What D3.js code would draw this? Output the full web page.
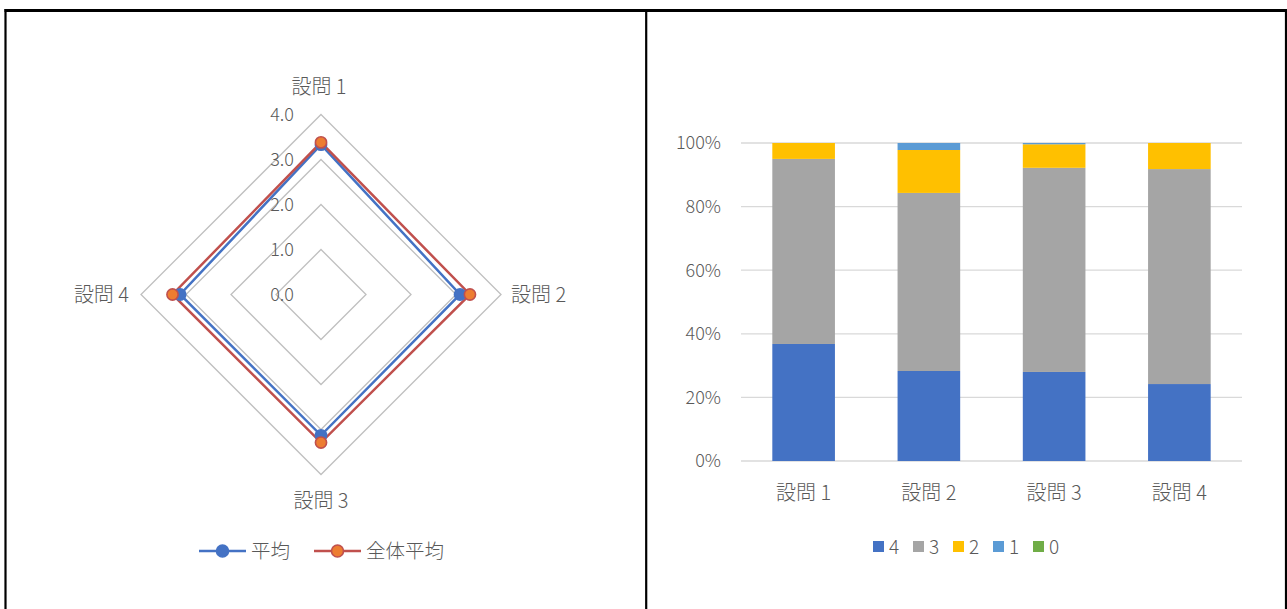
<!DOCTYPE html>
<html><head><meta charset="utf-8">
<script src="https://cdn.jsdelivr.net/npm/d3@7"></script>
<style>body{margin:0;background:#fff}svg text{font-family:"Noto Sans CJK JP","Noto Sans",sans-serif;fill:#595959;font-weight:300}</style>
</head><body><svg id="c" width="1287" height="609"></svg>
<script>
// ---- data ----
const radarCategories = ["設問 1","設問 2","設問 3","設問 4"];
const radarTicks = [0,1,2,3,4];
const seriesAvg = [3.33, 3.09, 3.13, 3.13];      // 平均
const seriesAll = [3.38, 3.31, 3.29, 3.30];      // 全体平均
const radarSeriesNames = ["平均","全体平均"];

const barCategories = ["設問 1","設問 2","設問 3","設問 4"];
const levelKeys = ["4","3","2","1","0"];
const share4 = [36.8, 28.3, 28.0, 24.2];
const share3 = [58.2, 56.0, 64.2, 67.6];
const share2 = [5.0, 13.5, 7.4, 8.2];
const share1 = [0.0, 2.2, 0.4, 0.0];
const share0 = [0.0, 0.0, 0.0, 0.0];
const pctTicks = [0, 0.2, 0.4, 0.6, 0.8, 1.0];

const svg = d3.select("#c");

// ---- frame ----
svg.append("line").attr("x1",4.5).attr("x2",1287).attr("y1",10.5).attr("y2",10.5).attr("stroke","#000").attr("stroke-width",3);
[5.5, 646.2, 1286].forEach(x=>svg.append("line").attr("x1",x).attr("x2",x).attr("y1",9).attr("y2",609).attr("stroke","#000").attr("stroke-width",2.2));

// ---- radar ----
const cx = 321, cy = 294.5;
const r = d3.scaleLinear().domain([0,4]).range([0,180]);
const ang = i => -Math.PI/2 + i*2*Math.PI/radarCategories.length;
const pt = (v,i) => [cx + r(v)*Math.cos(ang(i)), cy + r(v)*Math.sin(ang(i))];
const lineGen = d3.line();
const rg = svg.append("g");
radarTicks.slice(1).forEach(t=>{
  const pts = radarCategories.map((c,i)=>pt(t,i));
  rg.append("path").attr("d", lineGen(pts)+"Z").attr("fill","none").attr("stroke","#BFBFBF").attr("stroke-width",1.3);
});
radarTicks.forEach(t=>{
  rg.append("text").attr("x",cx-27).attr("y",cy - r(t)).attr("dy","0.35em")
    .attr("text-anchor","end").attr("font-size",18).text(d3.format(".1f")(t));
});
const labelPos = [
  {x:cx-2, y:cy-r(4)-28, a:"middle"},
  {x:cx+r(4)+10, y:cy, a:"start"},
  {x:cx, y:cy+r(4)+26, a:"middle"},
  {x:cx-r(4)-12, y:cy, a:"end"}
];
radarCategories.forEach((c,i)=>{
  rg.append("text").attr("x",labelPos[i].x).attr("y",labelPos[i].y).attr("dy","0.35em")
   .attr("text-anchor",labelPos[i].a).attr("font-size",20).text(c);
});
const radarStyles = [
  {data: seriesAvg, line:"#4472C4", fill:"#4472C4", stroke:"#4472C4"},
  {data: seriesAll, line:"#C0504D", fill:"#ED7D31", stroke:"#C0504D"}
];
radarStyles.forEach(s=>{
  const pts = s.data.map((v,i)=>pt(v,i));
  rg.append("path").attr("d", lineGen(pts)+"Z").attr("fill","none").attr("stroke",s.line).attr("stroke-width",2.5);
});
radarStyles.forEach(s=>{
  s.data.forEach((v,i)=>{
    const p = pt(v,i);
    rg.append("circle").attr("cx",p[0]).attr("cy",p[1]).attr("r",5.6).attr("fill",s.fill).attr("stroke",s.stroke).attr("stroke-width",1.6);
  });
});
// radar legend
const legX = [199, 314];
radarSeriesNames.forEach((n,i)=>{
  const s = radarStyles[i], x = legX[i], y = 551;
  rg.append("line").attr("x1",x).attr("x2",x+47).attr("y1",y).attr("y2",y).attr("stroke",s.line).attr("stroke-width",2.5);
  rg.append("circle").attr("cx",x+23.5).attr("cy",y).attr("r",6).attr("fill",s.fill).attr("stroke",s.stroke).attr("stroke-width",1.6);
  rg.append("text").attr("x",x+52).attr("y",y).attr("dy","0.35em").attr("font-size",19.5).text(n);
});

// ---- stacked 100% bar ----
const shares = {"4":share4,"3":share3,"2":share2,"1":share1,"0":share0};
const rows = barCategories.map((c,i)=>{
  const o = {cat:c}; let tot = 0;
  levelKeys.forEach(k=>{ tot += shares[k][i]; });
  levelKeys.forEach(k=>{ o[k] = shares[k][i]/tot; });
  return o;
});
const colors = {"4":"#4472C4","3":"#A5A5A5","2":"#FFC000","1":"#5B9BD5","0":"#70AD47"};
const x = d3.scaleBand().domain(barCategories).range([741,1242]).paddingInner(0.5).paddingOuter(0.25);
const y = d3.scaleLinear().domain([0,1]).range([461,143]);
const bg = svg.append("g");
pctTicks.forEach(t=>{
  bg.append("line").attr("x1",741).attr("x2",1242).attr("y1",y(t)).attr("y2",y(t)).attr("stroke","#D9D9D9").attr("stroke-width",1.3);
  bg.append("text").attr("x",721).attr("y",y(t)).attr("dy","0.35em").attr("text-anchor","end").attr("font-size",18).text(d3.format(".0%")(t));
});
const stack = d3.stack().keys(levelKeys)(rows);
stack.forEach(layer=>{
  bg.append("g").attr("fill",colors[layer.key]).selectAll("rect").data(layer).join("rect")
    .attr("x",d=>x(d.data.cat)).attr("width",x.bandwidth())
    .attr("y",d=>y(d[1])).attr("height",d=>Math.max(0,y(d[0])-y(d[1])));
});
barCategories.forEach(c=>{
  bg.append("text").attr("x",x(c)+x.bandwidth()/2).attr("y",493).attr("dy","0.35em").attr("text-anchor","middle").attr("font-size",20).text(c);
});
levelKeys.forEach((k,i)=>{
  const lx = 873 + i*40;
  bg.append("rect").attr("x",lx).attr("y",541).attr("width",11).attr("height",11).attr("fill",colors[k]);
  bg.append("text").attr("x",lx+16).attr("y",547).attr("dy","0.35em").attr("font-size",19).text(k);
});
</script></body></html>
